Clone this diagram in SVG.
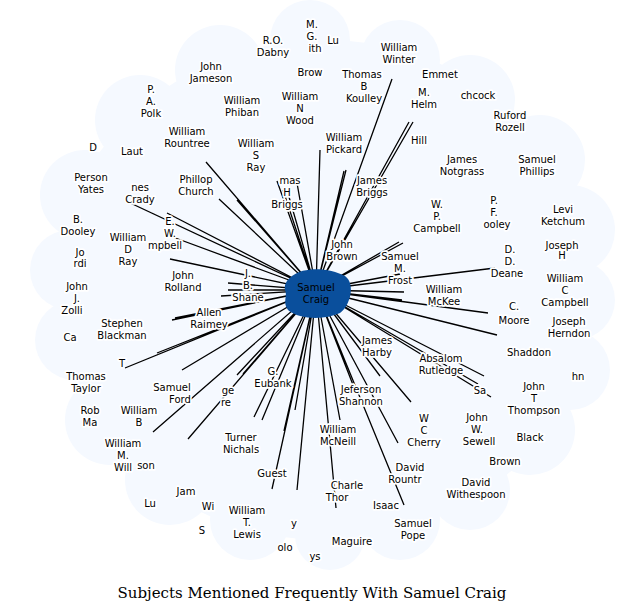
<svg xmlns="http://www.w3.org/2000/svg" width="624" height="615" viewBox="0 0 624 615">
<style>
.c{fill:#f5f9ff}
.l{stroke:#000;stroke-width:1.3}
text{font-family:"DejaVu Sans",sans-serif;font-size:10px;text-anchor:middle;fill:#000}
#labels text{stroke:#fff;stroke-width:3.5;stroke-linejoin:round;paint-order:stroke}
.t{font-family:"DejaVu Serif",serif;font-size:15px}
</style>
<rect width="624" height="615" fill="#fff"/>
<g id="cloud">
<ellipse class="c" cx="325" cy="290" rx="270" ry="250"/>
<circle class="c" cx="310" cy="40" r="40"/><circle class="c" cx="400" cy="60" r="40"/><circle class="c" cx="470" cy="100" r="45"/>
<circle class="c" cx="540" cy="160" r="45"/><circle class="c" cx="570" cy="230" r="45"/><circle class="c" cx="575" cy="300" r="40"/>
<circle class="c" cx="570" cy="370" r="40"/><circle class="c" cx="530" cy="430" r="45"/><circle class="c" cx="470" cy="490" r="40"/>
<circle class="c" cx="400" cy="520" r="40"/><circle class="c" cx="330" cy="535" r="35"/><circle class="c" cx="250" cy="520" r="40"/>
<circle class="c" cx="170" cy="480" r="45"/><circle class="c" cx="110" cy="420" r="45"/><circle class="c" cx="75" cy="340" r="40"/>
<circle class="c" cx="70" cy="270" r="40"/><circle class="c" cx="85" cy="195" r="45"/><circle class="c" cx="140" cy="120" r="45"/><circle class="c" cx="220" cy="70" r="45"/>
</g>
<g id="connectors">
<path class="l" d="M316 290L206 162M316 290L219 199M316 290L237 200M316 290L126 201M316 290L167 213M316 290L170 236M316 290L170 259M316 290L228 283M316 290L228 290M316 290L221 296M316 290L172 320M316 290L175 318M316 290L157 353M316 290L125 368M316 290L182 370M316 290L153 432M316 290L188 439M316 290L237 375M316 290L243 374M316 290L254 417M316 290L262 420M316 290L284 431M316 290L295 410M316 290L272 489M316 290L297 490M316 290L336 508M316 290L380 376M316 290L411 402M316 290L398 443M316 290L404 505M316 290L491 397M316 290L478 384M316 290L484 376M316 290L497 335M316 290L488 313M316 290L402 300M316 290L404 292M316 290L495 268M316 290L400 274M316 290L399 242M316 290L403 243M316 290L413 122M316 290L409 122M316 290L392 79M316 290L346 170M316 290L344 171M316 290L283 190M316 290L287 190M316 290L297 183M316 290L277 181M316 290L320 150M316 290L355 390M316 290L340 420"/>
</g>
<g id="labels">
<text x="273" y="44">R.O.</text><text x="273" y="56">Dabny</text>
<text x="312" y="28">M.</text><text x="312" y="40">G.</text><text x="315" y="52">ith</text>
<text x="333" y="44">Lu</text>
<text x="399" y="51">William</text><text x="399" y="63">Winter</text>
<text x="211" y="70">John</text><text x="211" y="82">Jameson</text>
<text x="310" y="76">Brow</text>
<text x="362" y="78">Thomas</text><text x="364" y="90">B</text><text x="364" y="102">Koulley</text>
<text x="440" y="78">Emmet</text>
<text x="151" y="93">P.</text><text x="151" y="105">A.</text><text x="151" y="117">Polk</text>
<text x="242" y="104">William</text><text x="242" y="116">Phiban</text>
<text x="300" y="100">William</text><text x="300" y="112">N</text><text x="300" y="124">Wood</text>
<text x="424" y="96">M.</text><text x="424" y="108">Helm</text>
<text x="478" y="99">chcock</text>
<text x="510" y="119">Ruford</text><text x="510" y="131">Rozell</text>
<text x="187" y="135">William</text><text x="187" y="147">Rountree</text>
<text x="256" y="147">William</text><text x="256" y="159">S</text><text x="256" y="171">Ray</text>
<text x="344" y="141">William</text><text x="344" y="153">Pickard</text>
<text x="419" y="144">Hill</text>
<text x="93" y="151">D</text><text x="132" y="155">Laut</text>
<text x="462" y="163">James</text><text x="462" y="175">Notgrass</text>
<text x="537" y="163">Samuel</text><text x="537" y="175">Phillips</text>
<text x="91" y="181">Person</text><text x="91" y="193">Yates</text>
<text x="140" y="191">nes</text><text x="140" y="203">Crady</text>
<text x="196" y="183">Phillop</text><text x="196" y="195">Church</text>
<text x="290" y="184">mas</text><text x="287" y="196">H</text><text x="287" y="208">Briggs</text>
<text x="372" y="184">James</text><text x="372" y="196">Briggs</text>
<text x="437" y="208">W.</text><text x="437" y="220">P.</text><text x="437" y="232">Campbell</text>
<text x="494" y="204">P.</text><text x="494" y="216">F.</text><text x="497" y="228">ooley</text>
<text x="563" y="213">Levi</text><text x="563" y="225">Ketchum</text>
<text x="78" y="223">B.</text><text x="78" y="235">Dooley</text>
<text x="170" y="225">E.</text><text x="170" y="237">W.</text><text x="165" y="249">mpbell</text>
<text x="128" y="241">William</text><text x="128" y="253">D</text><text x="128" y="265">Ray</text>
<text x="342" y="248">John</text><text x="342" y="260">Brown</text>
<text x="562" y="249">Joseph</text><text x="562" y="259">H</text>
<text x="510" y="253">D.</text><text x="510" y="265">D.</text><text x="507" y="277">Deane</text>
<text x="400" y="260">Samuel</text><text x="400" y="272">M.</text><text x="400" y="284">Frost</text>
<text x="80" y="256">Jo</text><text x="80" y="267">rdi</text>
<text x="248" y="277">J.</text><text x="248" y="289">B.</text><text x="248" y="301">Shane</text>
<text x="183" y="279">John</text><text x="183" y="291">Rolland</text>
<text x="565" y="282">William</text><text x="565" y="294">C</text><text x="565" y="306">Campbell</text>
<text x="444" y="293">William</text><text x="444" y="305">McKee</text>
<text x="77" y="290">John</text><text x="77" y="302">J.</text><text x="72" y="314">Zolli</text>
<text x="514" y="310">C.</text><text x="514" y="324">Moore</text>
<text x="209" y="316">Allen</text><text x="209" y="328">Raimey</text>
<text x="122" y="327">Stephen</text><text x="122" y="339">Blackman</text>
<text x="569" y="325">Joseph</text><text x="569" y="337">Herndon</text>
<text x="70" y="341">Ca</text>
<text x="377" y="344">James</text><text x="377" y="356">Harby</text>
<text x="529" y="356">Shaddon</text>
<text x="122" y="367">T</text>
<text x="441" y="362">Absalom</text><text x="441" y="374">Rutledge</text>
<text x="86" y="380">Thomas</text><text x="86" y="392">Taylor</text>
<text x="172" y="391">Samuel</text><text x="180" y="403">Ford</text>
<text x="228" y="394">ge</text><text x="226" y="406">re</text>
<text x="273" y="375">G.</text><text x="273" y="387">Eubank</text>
<text x="361" y="393">Jeferson</text><text x="361" y="405">Shannon</text>
<text x="534" y="390">John</text><text x="534" y="402">T</text><text x="534" y="414">Thompson</text>
<text x="480" y="394">Sa</text><text x="578" y="380">hn</text>
<text x="90" y="414">Rob</text><text x="90" y="426">Ma</text>
<text x="139" y="414">William</text><text x="139" y="426">B</text>
<text x="338" y="433">William</text><text x="338" y="445">McNeill</text>
<text x="424" y="422">W</text><text x="424" y="434">C</text><text x="424" y="446">Cherry</text>
<text x="477" y="421">John</text><text x="477" y="433">W.</text><text x="479" y="445">Sewell</text>
<text x="530" y="441">Black</text>
<text x="123" y="447">William</text><text x="123" y="459">M.</text><text x="123" y="471">Will</text>
<text x="146" y="469">son</text>
<text x="241" y="441">Turner</text><text x="241" y="453">Nichals</text>
<text x="272" y="477">Guest</text>
<text x="505" y="465">Brown</text>
<text x="410" y="471">David</text><text x="405" y="483">Rountr</text>
<text x="347" y="489">Charle</text><text x="337" y="501">Thor</text>
<text x="476" y="486">David</text><text x="476" y="498">Withespoon</text>
<text x="186" y="495">Jam</text>
<text x="150" y="507">Lu</text><text x="208" y="510">Wi</text>
<text x="247" y="514">William</text><text x="247" y="526">T.</text><text x="247" y="538">Lewis</text>
<text x="294" y="527">y</text>
<text x="386" y="509">Isaac</text>
<text x="413" y="527">Samuel</text><text x="413" y="539">Pope</text>
<text x="202" y="534">S</text>
<text x="352" y="545">Maguire</text>
<text x="285" y="551">olo</text><text x="315" y="560">ys</text>
</g>
<g id="center">
<path d="M292 276C305 266 330 268 345 276C356 284 350 306 340 313C325 320 300 320 288 310C282 302 288 296 285 290C284 284 287 280 292 276Z" fill="#0a4f9c"/>
<text x="316" y="291">Samuel</text><text x="316" y="303">Craig</text>
</g>
<text class="t" x="312" y="598">Subjects Mentioned Frequently With Samuel Craig</text>
</svg>
